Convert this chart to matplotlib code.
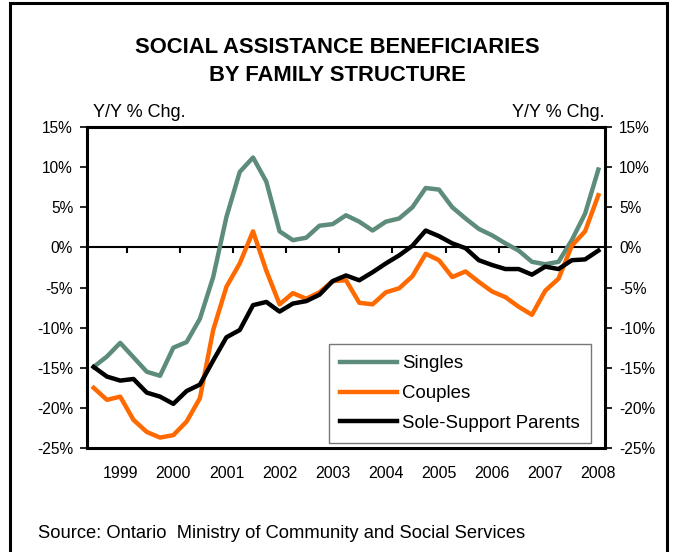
import numpy as np
import matplotlib.pyplot as plt
from matplotlib.patches import Rectangle

plt.rcParams['font.family'] = ['Liberation Sans', 'DejaVu Sans']
plt.rcParams['axes.unicode_minus'] = False

# quarterly year/year % change, 39 quarters
singles = [-14.9, -13.6, -11.9, -13.7, -15.5, -16.0, -12.5, -11.8, -8.9, -3.7,
           3.8, 9.4, 11.2, 8.2, 2.0, 0.9, 1.2, 2.7, 2.9, 4.0,
           3.2, 2.1, 3.2, 3.6, 5.0, 7.4, 7.2, 5.0, 3.6, 2.3,
           1.5, 0.5, -0.4, -1.8, -2.1, -1.8, 0.9, 4.2, 9.7]
couples = [-17.5, -19.0, -18.6, -21.5, -23.0, -23.7, -23.4, -21.7, -18.8, -10.3,
           -4.9, -2.0, 2.0, -2.9, -7.1, -5.7, -6.4, -5.6, -4.2, -4.1,
           -6.9, -7.1, -5.6, -5.1, -3.6, -0.8, -1.6, -3.7, -3.0, -4.3,
           -5.5, -6.2, -7.4, -8.4, -5.4, -3.9, 0.2, 2.0, 6.5]
sole_support = [-14.9, -16.1, -16.6, -16.4, -18.1, -18.6, -19.5, -17.9, -17.1, -14.1,
                -11.2, -10.3, -7.2, -6.8, -8.0, -7.0, -6.7, -5.9, -4.2, -3.5,
                -4.1, -3.1, -2.0, -1.0, 0.2, 2.1, 1.4, 0.5, -0.1, -1.6,
                -2.2, -2.7, -2.7, -3.4, -2.4, -2.7, -1.6, -1.5, -0.4]
years = ['1999', '2000', '2001', '2002', '2003', '2004', '2005', '2006', '2007', '2008']
yticks = [15, 10, 5, 0, -5, -10, -15, -20, -25]

x = np.arange(len(singles))

fig = plt.figure(figsize=(6.78, 5.52), dpi=100)
ax = fig.add_axes([87 / 678, 1 - 448 / 552, 518 / 678, 321 / 552])
ax.set_xlim(-0.5, len(x) - 0.5)
ax.set_ylim(-25, 15)

for s in ax.spines.values():
    s.set_linewidth(2.2)

ax.set_yticks(yticks)
ax.set_yticklabels([f'{v}%' for v in yticks])
ax.tick_params(axis='y', which='both', left=True, right=True, labelleft=True,
               labelright=True, direction='out', length=5, width=1.2,
               labelsize=11.2, pad=5)

# year labels every fourth quarter, no tick marks at the bottom
ax.set_xticks(np.arange(2, len(x), 4))
ax.set_xticklabels(years)
ax.tick_params(axis='x', length=0, labelsize=11.5, pad=13)

# zero line with year separators
ax0 = ax.twiny()
ax0.set_xlim(ax.get_xlim())
for k in ['top', 'left', 'right']:
    ax0.spines[k].set_visible(False)
ax0.spines['bottom'].set_position(('data', 0))
ax0.spines['bottom'].set_linewidth(1.5)
ax0.xaxis.set_ticks_position('bottom')
ax0.set_xticks(np.arange(2.5, len(x) - 1, 4))
ax0.set_xticklabels([])
ax0.tick_params(axis='x', direction='out', length=4, width=1.5)

ax0.plot(x, singles, color='#5E8C7A', lw=3.2, label='Singles', zorder=3)
ax0.plot(x, couples, color='#FF6A00', lw=3.2, label='Couples', zorder=3)
ax0.plot(x, sole_support, color='black', lw=3.2, label='Sole-Support Parents', zorder=3)

leg = ax0.legend(loc='lower right', bbox_to_anchor=(591 / 678, 1 - 443 / 552),
                 bbox_transform=fig.transFigure, fontsize=13.4, frameon=True,
                 fancybox=False, borderpad=0.6, labelspacing=0.68,
                 handlelength=3.1, handletextpad=0.25, borderaxespad=0)
leg.get_frame().set_edgecolor('#555555')
leg.get_frame().set_linewidth(1.0)

fig.text(0.497, 1 - 53.3 / 552, 'SOCIAL ASSISTANCE BENEFICIARIES', ha='center',
         va='baseline', fontsize=15.8, fontweight='bold')
fig.text(0.497, 1 - 81 / 552, 'BY FAMILY STRUCTURE', ha='center',
         va='baseline', fontsize=15.8, fontweight='bold')
fig.text(93 / 678, 1 - 117 / 552, 'Y/Y % Chg.', ha='left', va='baseline', fontsize=13)
fig.text(605 / 678, 1 - 117 / 552, 'Y/Y % Chg.', ha='right', va='baseline', fontsize=13)
fig.text(38 / 678, 1 - 537.7 / 552, 'Source: Ontario  Ministry of Community and Social Services',
         ha='left', va='baseline', fontsize=13.2)

# outer frame, open at the bottom edge
fig.patches.append(Rectangle((10 / 678, -0.05), 657 / 678, 1.044, transform=fig.transFigure,
                             fill=False, edgecolor='black', linewidth=2.2))

fig.savefig('out.png', dpi=100)
